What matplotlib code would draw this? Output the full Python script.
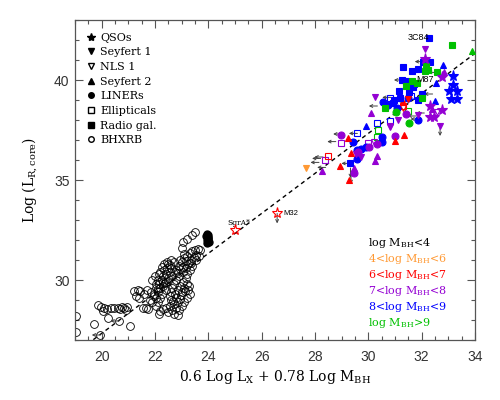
import numpy as np
import matplotlib
matplotlib.use('Agg')
import matplotlib.pyplot as plt
from matplotlib.lines import Line2D

# mass bins: 0 <4, 1 4-6, 2 6-7, 3 7-8, 4 8-9, 5 >9
bin_colors = ['black', '#ff9933', '#ff0000', '#9400d3', '#0000ff', '#00c000']
bin_labels = [r'log M$_{\rm BH}$<4', r'4<log M$_{\rm BH}$<6', r'6<log M$_{\rm BH}$<7',
              r'7<log M$_{\rm BH}$<8', r'8<log M$_{\rm BH}$<9', r'log M$_{\rm BH}$>9']

# QSOs
qso_x = [33.17, 33.17, 33.04, 33.34, 33.10, 33.31, 32.12, 32.75, 32.32, 32.75, 32.31, 32.47]
qso_y = [40.20, 39.75, 39.47, 39.47, 39.03, 39.03, 41.03, 40.17, 38.70, 38.50, 38.17, 38.17]
qso_m = [4, 4, 4, 4, 4, 4, 3, 3, 3, 3, 3, 3]

# Seyfert 1
sy1_x = [32.13, 30.24, 32.69, 30.82, 31.13, 29.72, 31.85, 31.47, 27.65, 29.55, 30.83]
sy1_y = [41.55, 39.13, 37.70, 37.70, 37.98, 36.17, 38.25, 39.03, 35.62, 36.30, 37.67]
sy1_m = [3, 3, 3, 3, 3, 3, 3, 2, 1, 3, 3]

# NLS 1
nls_x = [32.57, 30.22, 31.30]
nls_y = [38.38, 36.92, 38.60]
nls_m = [3, 3, 2]

# Seyfert 2
sy2_x = [33.89, 32.81, 32.53, 32.51, 29.90, 32.83, 30.10, 30.34, 30.25, 28.25, 29.45,
         31.34, 30.99, 29.25, 29.34, 28.93, 29.29, 31.30, 32.40]
sy2_y = [41.45, 40.75, 39.87, 38.95, 37.72, 40.38, 38.33, 36.20, 35.97, 35.45, 35.60,
         37.25, 36.95, 37.12, 36.33, 35.72, 35.00, 38.90, 38.55]
sy2_m = [5, 4, 4, 4, 4, 3, 3, 3, 3, 3, 3,
         2, 2, 2, 2, 2, 2, 2, 3]

# LINERs
lin_x = [30.54, 31.09, 31.85, 30.53, 30.50, 29.41, 29.57, 29.74, 29.90, 29.57, 31.50, 30.75,
         31.03, 31.51, 31.01, 30.32, 28.96, 30.03, 29.46, 31.40, 29.60]
lin_y = [38.92, 38.58, 38.00, 37.17, 36.88, 36.92, 36.50, 36.53, 36.67, 36.03, 39.10, 38.75,
         38.42, 37.83, 37.20, 36.80, 37.25, 36.67, 35.33, 38.30, 36.40]
lin_m = [4, 4, 4, 4, 4, 4, 4, 4, 4, 4, 4, 4,
         5, 5, 3, 3, 3, 3, 3, 3, 3]

# Ellipticals
ell_x = [30.82, 30.82, 30.32, 29.59, 31.60, 31.47, 30.38, 30.34, 28.96, 28.36, 30.00, 28.49, 31.30]
ell_y = [39.12, 37.97, 37.83, 37.33, 39.20, 38.45, 37.50, 37.17, 36.87, 36.00, 36.85, 36.20, 38.70]
ell_m = [4, 4, 4, 4, 4, 5, 5, 5, 3, 3, 3, 2, 2]

# Radio galaxies
rg_x = [32.28, 32.32, 32.06, 31.31, 31.85, 31.28, 31.53, 31.68, 31.16, 31.51, 31.63, 31.42,
        31.72, 31.20, 30.97, 30.91, 29.31, 32.00, 31.85,
        33.14, 32.18, 32.12, 32.56, 31.62, 31.43, 32.03, 30.63, 31.84, 32.22]
rg_y = [42.12, 40.92, 40.92, 40.67, 40.57, 40.00, 39.80, 39.63, 39.47, 39.38, 40.47, 39.95,
        39.78, 39.12, 39.00, 38.83, 35.83, 39.30, 39.00,
        41.75, 40.70, 40.45, 40.38, 39.93, 39.70, 39.12, 38.58, 39.87, 40.50]
rg_m = [4] * 19 + [5] * 10

# BHXRB
xrb_x = [19.05, 19.02, 19.70, 19.85, 19.98, 20.10, 20.05, 20.20, 20.35, 20.45, 20.60, 20.75,
         20.85, 20.95, 20.70, 20.90, 20.22, 21.07, 19.95, 20.65,
         21.20, 21.35, 21.45, 21.30, 21.40, 21.55, 21.65, 21.75, 21.60, 21.70, 21.85, 21.95,
         21.80, 21.90, 22.05, 21.90, 22.00, 22.10, 22.20, 22.15, 22.30, 22.05,
         22.10, 22.20, 22.15, 22.25, 22.30, 22.20, 22.35, 22.45, 22.50, 22.40, 22.55, 22.60,
         22.30, 22.10, 22.05, 22.25, 22.40, 22.50, 22.65, 22.70, 22.60, 22.45, 22.35, 22.15,
         22.60, 22.70, 22.80, 22.90, 23.00, 23.10, 23.20, 22.75, 22.85, 22.95, 23.05, 23.15,
         22.70, 22.80, 22.90, 23.00, 23.10, 23.25, 22.65, 22.55, 22.70, 22.85, 22.50, 22.40,
         23.30, 22.95, 22.60, 23.20,
         22.80, 22.90, 23.00, 23.10, 23.20, 23.30, 23.40, 23.50, 23.60, 23.70, 23.05, 23.15,
         23.25, 23.35, 23.45, 23.55, 23.20, 23.30, 23.40, 22.95, 23.10, 23.00, 23.05, 23.20,
         23.40, 23.50, 23.55, 23.65,
         22.20, 22.30, 22.40, 22.55, 22.65, 22.75, 22.85, 22.95, 23.05, 22.88, 22.78, 22.68,
         22.98, 23.12, 23.28, 22.48, 22.38, 22.28, 22.58, 23.18, 23.35, 22.02, 21.98, 22.12]
xrb_y = [28.20, 27.40, 27.80, 28.75, 28.65, 28.60, 28.45, 28.55, 28.60, 28.58, 28.60, 28.65,
         28.60, 28.65, 28.55, 28.50, 28.08, 27.70, 27.25, 27.95,
         29.45, 29.50, 29.45, 29.20, 29.10, 28.60, 28.60, 28.55, 29.30, 29.50, 29.40, 29.20,
         29.00, 28.90, 29.10, 30.00, 30.20, 28.90, 28.45, 28.30, 28.55, 28.70,
         29.40, 29.60, 29.80, 30.00, 30.20, 30.40, 30.50, 30.60, 30.80, 30.30, 30.40, 30.60,
         29.70, 30.00, 29.60, 29.30, 29.50, 30.10, 30.20, 30.90, 31.00, 30.90, 30.80, 30.30,
         29.00, 28.80, 28.60, 28.50, 28.70, 28.90, 29.10, 29.30, 29.50, 29.70, 29.90, 30.10,
         29.80, 30.00, 30.20, 29.40, 29.60, 29.50, 28.50, 28.70, 28.30, 28.25, 28.40, 28.60,
         29.30, 29.05, 29.40, 29.80,
         30.50, 30.70, 30.90, 31.10, 31.20, 31.35, 31.45, 31.50, 31.55, 31.50, 30.40, 30.60,
         30.80, 31.00, 31.15, 31.25, 30.30, 30.50, 30.70, 31.00, 31.30, 31.60, 31.90, 32.05,
         32.25, 32.42, 31.00, 31.20,
         29.10, 29.90, 29.90, 29.20, 29.60, 30.40, 30.35, 30.55, 30.65, 28.90, 29.10, 28.95,
         29.25, 29.45, 29.70, 29.95, 29.85, 30.65, 30.75, 30.95, 30.85, 29.80, 29.30, 29.55]

# filled black blob next to the BHXRB
blob_x = [23.95, 23.97, 23.98, 23.99, 24.00, 23.96, 23.94, 24.02, 24.00, 23.93]
blob_y = [31.85, 31.95, 32.05, 32.15, 32.25, 32.30, 32.00, 31.90, 32.10, 32.20]

# Sgr A* and M32
star_x = [25.00, 26.58]
star_y = [32.50, 33.33]

# upper limits: 'l' = X-ray upper limit (left), 'd' = radio upper limit (down)
lim_x = [32.06, 32.56, 31.28, 32.41, 31.45, 30.34, 29.59, 28.78, 29.31, 28.21, 28.15, 28.40,
         30.84, 31.80, 29.00, 28.30, 19.95, 20.65, 32.69, 26.58, 29.33, 29.35, 31.90, 32.10]
lim_y = [40.92, 40.38, 40.00, 39.30, 38.92, 38.70, 37.33, 36.92, 35.83, 36.08, 35.88, 35.63,
         39.13, 38.20, 37.30, 36.15, 27.25, 27.95, 37.70, 33.33, 35.60, 35.30, 38.05, 38.35]
lim_dir = ['l', 'l', 'l', 'l', 'l', 'l', 'l', 'l', 'l', 'l', 'l', 'l',
           'l', 'l', 'l', 'l', 'l', 'l', 'd', 'd', 'd', 'd', 'l', 'l']

fit_x = np.array([19.0, 34.0])
fit_y = fit_x + 7.33

plt.rcParams['font.family'] = 'DejaVu Serif'
plt.rcParams['mathtext.fontset'] = 'dejavuserif'

fig = plt.figure(figsize=(5, 4), dpi=100)
ax = fig.add_axes([0.15, 0.15, 0.8, 0.8])

ax.plot(fit_x, fit_y, color='black', lw=1.0, ls=(0, (3, 2.5)), zorder=1)

ax.plot(xrb_x, xrb_y, 'o', mfc='none', mec='black', ms=5.6, mew=0.6, zorder=2)
ax.plot(blob_x, blob_y, 'o', mfc='black', mec='black', ms=5, zorder=2)


def draw(xs, ys, ms_, marker, filled, size):
    for x, y, b in zip(xs, ys, ms_):
        c = bin_colors[b]
        ax.plot(x, y, marker, color=c, mfc=c if filled else 'none', mec=c,
                ms=size, mew=0.8, zorder=3)


# limit arrows
for x, y, d in zip(lim_x, lim_y, lim_dir):
    if d == 'l':
        ax.annotate('', xy=(x - 0.32, y), xytext=(x, y),
                    arrowprops=dict(arrowstyle='->', color='#404040', lw=0.7,
                                    mutation_scale=5, shrinkA=0, shrinkB=0), zorder=2)
    else:
        ax.annotate('', xy=(x, y - 0.5), xytext=(x, y),
                    arrowprops=dict(arrowstyle='->', color='#404040', lw=0.7,
                                    mutation_scale=5, shrinkA=0, shrinkB=0), zorder=2)

draw(ell_x, ell_y, ell_m, 's', False, 5)
draw(nls_x, nls_y, nls_m, 'v', False, 5)
draw(lin_x, lin_y, lin_m, 'o', True, 5)
draw(sy2_x, sy2_y, sy2_m, '^', True, 5)
draw(sy1_x, sy1_y, sy1_m, 'v', True, 5)
draw(rg_x, rg_y, rg_m, 's', True, 5)
draw(qso_x, qso_y, qso_m, '*', True, 8)

ax.plot(star_x, star_y, '*', mfc='none', mec='red', ms=8, mew=0.8, zorder=4)

ax.text(31.48, 42.12, '3C84', fontsize=6.5, family='Liberation Sans', va='center')
ax.text(31.80, 40.05, 'M87', fontsize=6.5, family='Liberation Sans', va='center')
ax.text(24.72, 32.85, 'SgrA*', fontsize=5.5, va='center')
ax.text(26.80, 33.33, 'M32', fontsize=5.5, family='Liberation Sans', va='center')

ax.set_xlim(19, 34)
ax.set_ylim(27, 43)
ax.set_xticks(np.arange(20, 35, 2))
ax.set_xticks(np.arange(19, 34.01, 0.5), minor=True)
ax.set_yticks([30, 35, 40])
ax.set_yticks(np.arange(27, 43.01, 1), minor=True)
ax.tick_params(which='both', direction='in', top=True, right=True, color='#555555', width=0.8)
ax.tick_params(which='major', length=6)
ax.tick_params(which='minor', length=3)
ax.tick_params(axis='x', pad=7)
ax.tick_params(axis='y', pad=4)
for lab in ax.get_xticklabels() + ax.get_yticklabels():
    lab.set_family('Liberation Sans')
    lab.set_fontsize(10)
    lab.set_color('#333333')
for s in ax.spines.values():
    s.set_color('#555555')
    s.set_linewidth(0.9)

ax.set_xlabel(r'0.6 Log L$_{\rm X}$ + 0.78 Log M$_{\rm BH}$', fontsize=10, labelpad=3)
ax.set_ylabel(r'Log (L$_{\rm R,core}$)', fontsize=10, labelpad=10)

handles = [
    Line2D([], [], ls='none', marker='*', color='black', ms=6),
    Line2D([], [], ls='none', marker='v', color='black', ms=4),
    Line2D([], [], ls='none', marker='v', mfc='none', mec='black', ms=4),
    Line2D([], [], ls='none', marker='^', color='black', ms=4),
    Line2D([], [], ls='none', marker='o', color='black', ms=4),
    Line2D([], [], ls='none', marker='s', mfc='none', mec='black', ms=4),
    Line2D([], [], ls='none', marker='s', color='black', ms=4),
    Line2D([], [], ls='none', marker='o', mfc='none', mec='black', ms=4),
]
names = ['QSOs', 'Seyfert 1', 'NLS 1', 'Seyfert 2', 'LINERs', 'Ellipticals', 'Radio gal.', 'BHXRB']
ax.legend(handles, names, loc='upper left', bbox_to_anchor=(0.01, 0.985), frameon=False,
          fontsize=8, handlelength=0.8, handletextpad=0.4, labelspacing=0.42, borderpad=0.2)

for i, (lab, c) in enumerate(zip(bin_labels, bin_colors)):
    ax.text(0.7325, 0.304 - i * 0.05, lab, color=c, fontsize=8, transform=ax.transAxes, va='center')

fig.savefig('out.png', dpi=100)
